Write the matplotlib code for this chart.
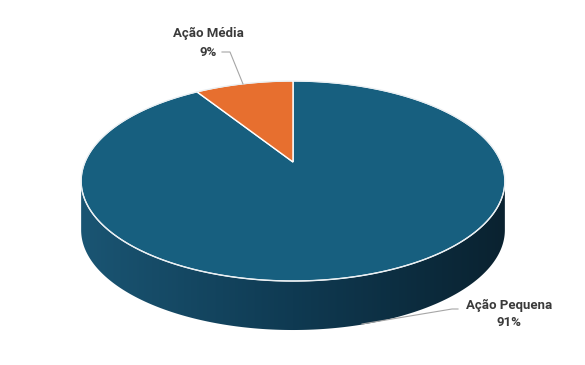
import numpy as np
import matplotlib.pyplot as plt
from matplotlib.patches import Polygon
from matplotlib.colors import LinearSegmentedColormap

labels = ["Ação Pequena", "Ação Média"]
values = [91, 9]
colors = ["#175f7f", "#e76f2f"]
side_cols = ["#1a5573", "#0f3a52", "#0a2230"]

# geometria da pizza em pixels (com perspectiva simples)
cx, cy = 293, 162
R, R2, k = 208, 96.4, 0.19
depth = 49

fig = plt.figure(figsize=(5.85, 3.65), dpi=100)
ax = fig.add_axes([0, 0, 1, 1])
ax.set_xlim(0, 585)
ax.set_ylim(365, 0)
ax.axis("off")

def pt(t, dy=0):
    # t em graus, anti-horário, 90 = fundo (topo da imagem)
    r = np.radians(t)
    X, Z = np.cos(r), np.sin(r)
    s = 1 + k * Z
    return cx + R * X / s, cy - R2 * Z / s + dy

# lateral (parte da frente)
a_esq = 180 + np.degrees(np.arcsin(k))
a_dir = 360 - np.degrees(np.arcsin(k))
t = np.linspace(a_esq, a_dir, 300)
top = np.array([pt(a) for a in t])
bot = np.array([pt(a, depth) for a in t[::-1]])
side = Polygon(np.vstack([top, bot]), closed=True, facecolor="none", edgecolor="none")
ax.add_patch(side)
cmap = LinearSegmentedColormap.from_list("lado", side_cols)
grad = np.linspace(0, 1, 256).reshape(1, -1)
x0, x1 = top[:, 0].min(), top[:, 0].max()
im = ax.imshow(grad, cmap=cmap, extent=[x0, x1, 340, 150], aspect="auto", zorder=1)
im.set_clip_path(side)

# fatias do topo: a pequena começa no topo e vai para a esquerda
frac = 360 * values[1] / sum(values)
angles = [(90 + frac, 450), (90, 90 + frac)]
for (a0, a1), c in zip(angles, colors):
    tt = np.linspace(a0, a1, 400)
    pts = [(cx, cy)] + [pt(a) for a in tt]
    ax.add_patch(Polygon(pts, closed=True, facecolor=c, edgecolor="white", linewidth=1.0, zorder=2))

# borda clara do topo
tt = np.linspace(0, 360, 500)
e = np.array([pt(a) for a in tt])
ax.plot(e[:, 0], e[:, 1], color="#e8eef2", lw=0.8, zorder=3)

# rótulos
fnt = dict(fontsize=9.5, fontweight="bold", color="#3a3a3a", family="Roboto", ha="center", va="center")
ax.text(208, 33, labels[1], **fnt)
ax.text(208, 52, f"{values[1]}%", **fnt)
ax.plot([222, 230, 243], [52, 52, 84], color="#a6a6a6", lw=0.8, zorder=4)

ax.text(509, 305, labels[0], **fnt)
ax.text(509, 323, f"{values[0]}%", **fnt)
ax.plot([458, 452, 362], [309, 309, 324], color="#a6a6a6", lw=0.8, zorder=4)

plt.savefig("out.png", dpi=100)
